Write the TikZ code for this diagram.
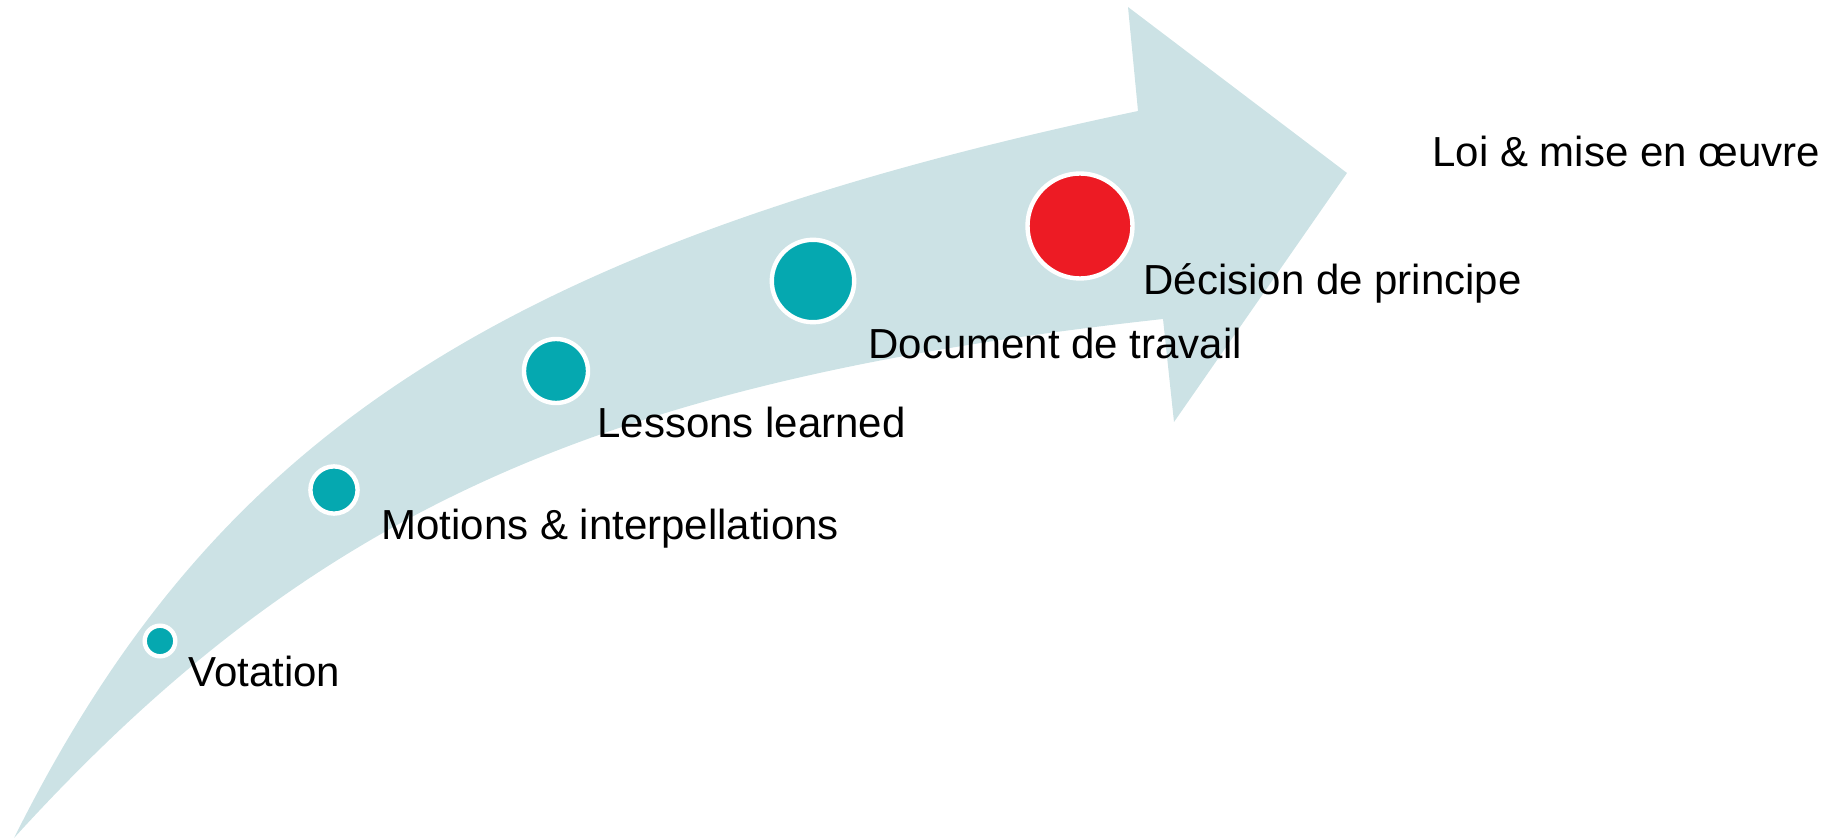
\documentclass[tikz,border=0pt]{standalone}
\usepackage{fontspec}
\setmainfont{Liberation Sans}
\begin{document}
\begin{tikzpicture}[x=0.5pt,y=-0.5pt,
  lbl/.style={anchor=base west,inner sep=0pt,font=\fontsize{21}{25}\selectfont},
  dot/.style={circle,draw=white,line width=2.2pt,inner sep=0pt,fill=dotteal},
]
\definecolor{arrowfill}{HTML}{CCE2E5}
\definecolor{dotteal}{HTML}{05A8B0}
\definecolor{dotred}{HTML}{ED1B24}
\useasboundingbox (0,0) rectangle (1843,839);
% curved arrow
\fill[arrowfill] (14,838) .. controls (205.8,454.4) and (475,250.6) .. (1138,111)
  -- (1128,7) -- (1347,173) -- (1174,422) -- (1163,319)
  .. controls (599,381) and (311.8,511) .. (14,838) -- cycle;
% circles
\node[dot,minimum size=15.3pt] (c1) at (160,641) {};
\node[dot,minimum size=23.6pt] (c2) at (334,490) {};
\node[dot,minimum size=32pt] (c3) at (556,371) {};
\node[dot,minimum size=41.2pt] (c4) at (813,281) {};
\node[dot,minimum size=52.5pt,fill=dotred] (c5) at (1080,226) {};
% labels
\node[lbl] (t1) at (188,686) {Votation};
\node[lbl] (t2) at (381,540) {Motions \& interpellations};
\node[lbl] (t3) at (597,438) {Lessons learned};
\node[lbl] (t4) at (868,359) {Document de travail};
\node[lbl] (t5) at (1143,295) {Décision de principe};
\node[lbl] (t6) at (1432,167) {Loi \& mise en œuvre};
\end{tikzpicture}
\end{document}
